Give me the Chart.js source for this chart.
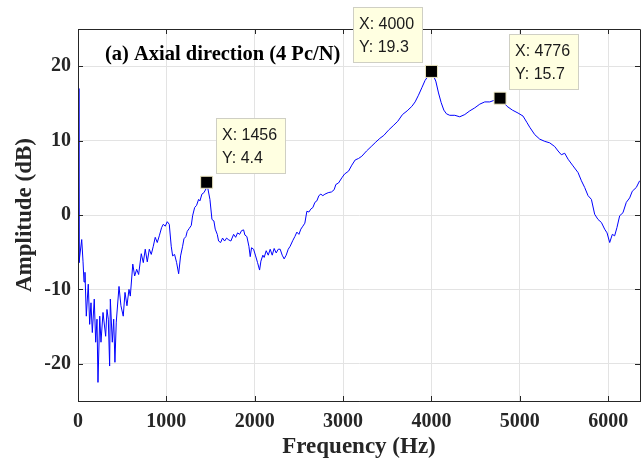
<!DOCTYPE html>
<html>
<head>
<meta charset="utf-8">
<script src="https://cdn.jsdelivr.net/npm/chart.js@4/dist/chart.umd.min.js"></script>
<style>
  html, body { margin: 0; padding: 0; background: #fff; }
  #wrap { width: 641px; height: 461px; }
</style>
</head>
<body>
<div id="wrap"><canvas id="fft" width="641" height="461"></canvas></div>
<script>
// frequency response (Hz, dB)
const freqHz = [0, 11, 42, 57, 68, 79, 94, 116, 132, 147, 162, 184, 200, 215, 226, 246, 260, 283, 313, 328,
  343, 358, 366, 388, 404, 418, 433, 464, 486, 512, 532, 554, 577, 592, 620, 641, 664, 686, 716, 739,
  761, 784, 807, 829, 852, 874, 897, 920, 946, 965, 988, 1010, 1033, 1055, 1071, 1093, 1116, 1139, 1161, 1184,
  1199, 1221, 1236, 1259, 1282, 1297, 1320, 1342, 1365, 1380, 1402, 1425, 1448, 1456, 1493, 1516, 1538, 1553, 1576, 1591,
  1614, 1636, 1659, 1682, 1700, 1730, 1761, 1784, 1806, 1829, 1851, 1874, 1889, 1911, 1934, 1949, 1964, 1987, 2010, 2032,
  2055, 2070, 2092, 2107, 2130, 2153, 2175, 2198, 2220, 2243, 2266, 2288, 2311, 2333, 2356, 2379, 2401, 2432, 2454, 2477,
  2500, 2522, 2545, 2567, 2590, 2613, 2635, 2658, 2681, 2703, 2726, 2748, 2771, 2794, 2831, 2869, 2899, 2918, 2948, 2986,
  3016, 3062, 3099, 3137, 3175, 3212, 3265, 3318, 3370, 3416, 3461, 3514, 3567, 3619, 3672, 3725, 3778, 3815, 3853, 3891,
  3928, 4000, 4049, 4080, 4110, 4140, 4170, 4207, 4264, 4320, 4377, 4434, 4490, 4547, 4603, 4660, 4776, 4856, 4916, 4980,
  5036, 5082, 5112, 5169, 5225, 5282, 5338, 5395, 5433, 5470, 5508, 5546, 5602, 5659, 5697, 5734, 5772, 5810, 5847, 5885,
  5923, 5960, 5987, 6017, 6047, 6073, 6099, 6130, 6167, 6205, 6243, 6273, 6318, 6356];
const ampDb = [17.0, -6.4, -3.3, -6.3, -9.0, -7.7, -13.6, -9.3, -14.7, -11.8, -15.8, -11.3, -17.1, -14.0, -22.5, -13.6, -17.1, -13.1, -16.3, -12.7,
  -14.0, -20.3, -11.3, -17.1, -14.0, -19.8, -14.4, -9.6, -12.2, -13.6, -10.4, -12.2, -10.0, -10.9, -6.6, -8.2, -7.3, -8.0, -5.2, -6.4,
  -4.6, -6.3, -4.6, -5.3, -4.2, -3.0, -3.7, -2.8, -1.7, -1.25, -1.5, -0.9, -1.25, -4.2, -5.5, -5.3, -6.4, -7.9, -5.5, -4.2,
  -3.2, -2.9, -2.2, -1.8, -1.4, -0.1, 1.0, 1.3, 2.1, 1.9, 2.8, 3.0, 3.5, 4.4, 2.1, -0.6, -0.8, -1.9, -2.6, -3.5,
  -3.7, -3.1, -3.5, -3.1, -3.3, -3.5, -2.6, -3.0, -2.4, -2.6, -2.1, -2.0, -2.7, -2.9, -4.2, -5.6, -4.4, -4.6, -5.5, -6.4,
  -7.4, -6.2, -5.4, -5.7, -4.8, -5.4, -4.6, -5.4, -4.5, -5.1, -4.6, -4.6, -5.4, -5.9, -5.4, -4.6, -4.2, -3.4, -2.9, -2.3,
  -2.6, -1.9, -1.5, -1.1, 0.5, 0.4, 0.8, 1.0, 1.7, 1.9, 2.6, 2.8, 2.6, 2.8, 3.0, 3.1, 3.4, 4.1, 4.3, 5.0,
  5.5, 5.9, 6.7, 7.4, 7.6, 7.9, 8.6, 9.2, 9.8, 10.3, 10.7, 11.4, 12.0, 12.6, 13.5, 14.0, 14.6, 15.2, 16.1, 17.1,
  18.1, 19.3, 18.0, 16.4, 15.1, 14.1, 13.6, 13.4, 13.4, 13.2, 13.5, 14.0, 14.4, 14.9, 15.2, 15.2, 15.7, 14.6, 14.1, 13.7,
  13.3, 12.4, 11.8, 10.8, 10.2, 9.9, 9.7, 9.2, 8.6, 8.1, 8.3, 7.5, 6.6, 5.7, 4.6, 3.7, 2.6, 2.1, 0.1, -0.6,
  -1.0, -1.9, -2.4, -3.7, -2.6, -2.8, -1.7, -0.1, 0.3, 1.7, 2.3, 3.2, 3.7, 4.6];

// data tips
const tipFreq = [1456, 4000, 4776];
const tipAmp = [4.4, 19.3, 15.7];
const tipSide = ['right', 'left', 'right'];   // which side of the marker the box sits

const xTicks = [0, 1000, 2000, 3000, 4000, 5000, 6000];
const yTicks = [-20, -10, 0, 10, 20];

const serifBold = {family: '"Liberation Serif", "Times New Roman", serif', weight: 'bold'};
const axisColor = '#262626';

const boxPlugin = {
  id: 'boxAndTips',
  afterDraw(chart) {
    const ctx = chart.ctx, a = chart.chartArea;
    const xs = chart.scales.x, ys = chart.scales.y;
    ctx.save();
    // full box + inward ticks like matlab
    ctx.strokeStyle = axisColor;
    ctx.lineWidth = 1;
    ctx.beginPath();
    ctx.rect(Math.round(a.left) + 0.5, Math.round(a.top) + 0.5, Math.round(a.right - a.left), Math.round(a.bottom - a.top));
    xTicks.forEach(v => {
      const px = Math.round(xs.getPixelForValue(v)) + 0.5;
      ctx.moveTo(px, a.bottom); ctx.lineTo(px, a.bottom - 5);
      ctx.moveTo(px, a.top); ctx.lineTo(px, a.top + 5);
    });
    yTicks.forEach(v => {
      const py = Math.round(ys.getPixelForValue(v)) + 0.5;
      ctx.moveTo(a.left, py); ctx.lineTo(a.left + 5, py);
      ctx.moveTo(a.right, py); ctx.lineTo(a.right - 5, py);
    });
    ctx.stroke();

    // panel label
    ctx.fillStyle = '#000';
    ctx.font = 'bold 20.5px "Liberation Serif", "Times New Roman", serif';
    ctx.textBaseline = 'alphabetic';
    ctx.fillText('(a) Axial direction (4 Pc/N)', 105, 60);

    // data tip boxes
    ctx.font = '16px "Liberation Sans", Arial, sans-serif';
    ctx.textBaseline = 'middle';
    tipFreq.forEach((f, i) => {
      const mx = xs.getPixelForValue(f), my = ys.getPixelForValue(tipAmp[i]);
      const w = 69, h = 55;
      const bx = Math.round(tipSide[i] === 'right' ? mx + 9 : mx - 9 - w);
      const by = Math.round(my - 9 - h);
      ctx.fillStyle = '#ffffe1';
      ctx.fillRect(bx, by, w, h);
      ctx.strokeStyle = '#cfcfc4';
      ctx.strokeRect(bx + 0.5, by + 0.5, w, h);
      ctx.fillStyle = '#1a1a1a';
      ctx.fillText('X: ' + f, bx + 6, by + 18);
      ctx.fillText('Y: ' + tipAmp[i], bx + 6, by + 41);
    });
    ctx.restore();
  }
};

new Chart(document.getElementById('fft'), {
  type: 'line',
  data: {
    datasets: [{
      label: 'tips',
      data: tipFreq.map((f, i) => ({x: f, y: tipAmp[i]})),
      showLine: false,
      pointStyle: 'rect',
      pointRadius: 8.5,
      pointBackgroundColor: '#000',
      pointBorderColor: '#efe9c4',
      pointBorderWidth: 1,
      order: 0
    }, {
      label: 'Amplitude',
      data: freqHz.map((f, i) => ({x: f, y: ampDb[i]})),
      borderColor: '#0000ff',
      borderWidth: 1,
      pointRadius: 0,
      tension: 0,
      order: 1
    }]
  },
  options: {
    responsive: false,
    animation: false,
    devicePixelRatio: 1,
    layout: {autoPadding: false, padding: {top: 29, right: 1, left: 0, bottom: 0}},
    plugins: {legend: {display: false}, tooltip: {enabled: false}},
    scales: {
      x: {
        type: 'linear', min: 0, max: 6360,
        afterBuildTicks: s => { s.ticks = xTicks.map(v => ({value: v})); },
        afterFit: s => { s.height = 60; s.paddingLeft = 0; s.paddingRight = 0; },
        grid: {color: '#e3e3e3', drawTicks: false},
        border: {display: true, color: axisColor},
        ticks: {color: axisColor, padding: 9, maxRotation: 0, font: {...serifBold, size: 20},
                callback: v => String(v)},
        title: {display: true, text: 'Frequency (Hz)', color: axisColor,
                padding: {top: 0, bottom: 0}, font: {...serifBold, size: 23}}
      },
      y: {
        type: 'linear', min: -25, max: 25,
        afterBuildTicks: s => { s.ticks = yTicks.map(v => ({value: v})); },
        afterFit: s => { s.width = 78; s.paddingTop = 0; s.paddingBottom = 0; },
        grid: {color: '#e3e3e3', drawTicks: false},
        border: {display: true, color: axisColor},
        ticks: {color: axisColor, padding: 7, font: {...serifBold, size: 20},
                callback: v => String(v)},
        title: {display: true, text: 'Amplitude (dB)', color: axisColor,
                padding: {top: 11, bottom: 0}, font: {...serifBold, size: 23}}
      }
    }
  },
  plugins: [boxPlugin]
});
</script>
</body>
</html>
